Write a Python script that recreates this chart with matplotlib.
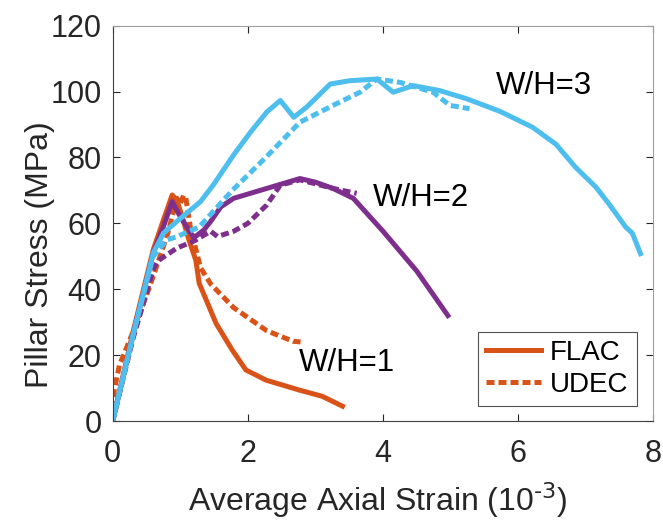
import matplotlib
matplotlib.use('Agg')
import matplotlib.pyplot as plt

plt.rcParams['font.family'] = ['Liberation Sans', 'DejaVu Sans']

ORANGE = '#D95319'
PURPLE = '#7E2F8E'
BLUE = '#4DBEEE'

# W/H = 1
flac1_x = [0, 0.3, 0.6, 0.75, 0.88, 0.95, 1.03, 1.13, 1.23, 1.28, 1.53, 1.77, 1.97, 2.27, 2.76, 3.1, 3.40]
flac1_y = [0, 27, 52, 61, 68.6, 67, 61.9, 54.8, 48.8, 41.8, 29.6, 21.5, 15.5, 12.4, 9.4, 7.5, 4.5]
udec1_x = [0, 0.02, 0.1, 0.3, 0.56, 0.81, 0.95, 1.0, 1.05, 1.08, 1.15, 1.3, 1.45, 1.79, 2.28, 2.67, 2.78]
udec1_y = [0, 9, 17, 27, 41.6, 56.6, 67.6, 66, 68.5, 68, 58.6, 46.5, 41.6, 34.4, 27.4, 24.2, 24.0]

# W/H = 2
flac2_x = [0, 0.3, 0.6, 0.75, 0.88, 1.0, 1.2, 1.35, 1.45, 1.6, 1.79, 2.28, 2.77, 3.0, 3.26, 3.56, 4.0, 4.5, 4.96]
flac2_y = [0, 26, 51, 59, 66.6, 62, 55.6, 58, 60.6, 65, 67.6, 70.6, 73.6, 72.5, 70.6, 67.6, 57.6, 45.5, 32]
udec2_x = [0, 0.3, 0.6, 0.66, 0.95, 1.2, 1.45, 1.55, 1.79, 2.0, 2.28, 2.48, 2.77, 3.0, 3.26, 3.61]
udec2_y = [0, 25, 46, 48.5, 52.5, 54.6, 57.6, 56, 57.6, 60, 65.6, 71.6, 73.2, 72, 70.6, 69.1]

# W/H = 3
flac3_x = [0, 0.3, 0.6, 0.75, 0.95, 1.3, 1.49, 1.79, 2.04, 2.28, 2.48, 2.68, 2.87, 3.22, 3.51, 3.91,
           4.15, 4.45, 4.84, 5.24, 5.73, 6.21, 6.56, 6.85, 7.15, 7.34, 7.59, 7.69, 7.81]
flac3_y = [0, 26, 51, 57, 60.6, 66.6, 71.7, 80.8, 87.7, 93.8, 97.3, 92.2, 95.3, 102.3, 103.3, 103.8,
           99.8, 101.8, 100.3, 97.8, 94, 89.2, 84, 77, 71, 66, 58.9, 57, 50.8]
udec3_x = [0, 0.3, 0.6, 0.8, 0.93, 1.28, 1.77, 2.27, 2.77, 3.26, 3.66, 3.91, 4.25, 4.74, 4.99, 5.28]
udec3_y = [0, 26, 50, 55, 55.8, 58.9, 70, 80.1, 90.7, 95.8, 99.8, 103.8, 102.8, 99.8, 95.8, 94.8]

labels = ['W/H=1', 'W/H=2', 'W/H=3']
label_x = [3.47, 4.56, 6.38]
label_y = [17.6, 67.6, 101.8]

LW = 3.6
dash = (0, (1.6, 0.8))
fig = plt.figure(figsize=(6.63, 5.23), dpi=100)
ax = fig.add_axes([0.170, 0.195, 0.8154, 0.7559])

ax.plot(flac1_x, flac1_y, color=ORANGE, lw=LW, label='FLAC')
ax.plot(udec1_x, udec1_y, color=ORANGE, lw=LW, ls=dash, label='UDEC')
ax.plot(flac2_x, flac2_y, color=PURPLE, lw=LW)
ax.plot(udec2_x, udec2_y, color=PURPLE, lw=LW, ls=dash)
ax.plot(flac3_x, flac3_y, color=BLUE, lw=LW)
ax.plot(udec3_x, udec3_y, color=BLUE, lw=LW, ls=dash)

for t, x, y in zip(labels, label_x, label_y):
    ax.text(x, y, t, fontsize=22.5, ha='center', va='center')

ax.set_xlim(0, 8)
ax.set_ylim(0, 120)
ax.set_xticks([0, 2, 4, 6, 8])
ax.set_yticks(range(0, 121, 20))
ax.tick_params(direction='in', length=5, top=True, right=True, labelsize=22,
               colors='#262626')
ax.tick_params(axis='x', pad=13)
ax.tick_params(axis='y', pad=8)
for s in ax.spines.values():
    s.set_color('#404040')
ax.spines['right'].set_color('#a0a0a0')
ax.spines['top'].set_color('#a0a0a0')

ax.set_xlabel('Average Axial Strain (10$^{\\text{-3}}$)', fontsize=23, color='#262626')
ax.xaxis.set_label_coords(0.49, -0.2)
ax.xaxis.label.set_va('center')
ax.set_ylabel('Pillar Stress (MPa)', fontsize=23, color='#262626')
ax.yaxis.set_label_coords(-0.134, 0.42)
ax.yaxis.label.set_va('center')

leg = ax.legend(loc='lower right', bbox_to_anchor=(0.969, 0.038), fontsize=20, frameon=True,
                fancybox=False, edgecolor='#262626', handlelength=2.0, borderpad=0.3,
                labelspacing=0.2, handletextpad=0.3, borderaxespad=0)
leg.get_frame().set_linewidth(0.8)

fig.savefig('out.png', dpi=100)
